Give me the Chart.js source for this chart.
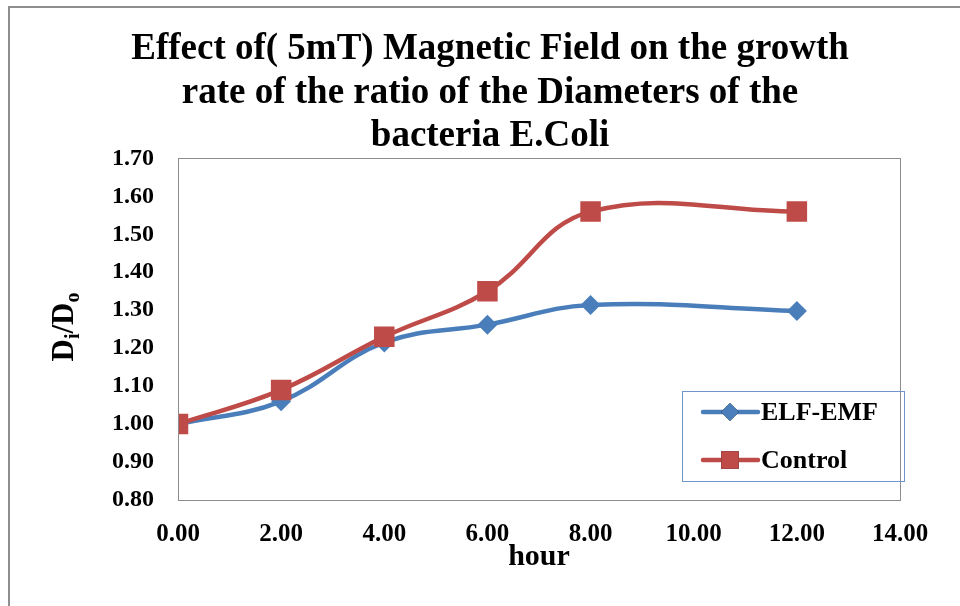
<!DOCTYPE html>
<html>
<head>
<meta charset="utf-8">
<script src="https://cdn.jsdelivr.net/npm/chart.js@4/dist/chart.umd.min.js"></script>
<style>
  body { margin: 0; background: #fff; }
  #frame {
    position: absolute; left: 8px; top: 6px;
    width: 952px; height: 600px;
    border-top: 2px solid #8e8e8e; border-left: 2px solid #8e8e8e;
  }
  #chart { display: block; }
</style>
</head>
<body>
<div id="frame"><canvas id="chart" width="952" height="600"></canvas></div>
<script>
// 데이터
const hours = [0, 2, 4, 6, 8, 12];
const elfValues = [1.00, 1.06, 1.215, 1.262, 1.314, 1.298];
const controlValues = [1.00, 1.09, 1.23, 1.35, 1.56, 1.56];
const seriesNames = ['ELF-EMF', 'Control'];
const titleLines = [
  'Effect of( 5mT) Magnetic Field on the growth',
  'rate of the ratio of the Diameters of the',
  'bacteria E.Coli'
];
const xAxisTitle = 'hour';

const serif = '"Liberation Serif", "Times New Roman", serif';
const blue = '#4a7ebb';
const red = '#be4b48';

function toPoints(values) {
  return hours.map((h, i) => ({ x: h, y: values[i] }));
}

// 플롯 테두리 + Y축 제목(아래첨자) + 범례
const extras = {
  id: 'extras',
  afterDraw(chart) {
    const ctx = chart.ctx;
    const a = chart.chartArea;
    ctx.save();

    // plot area border
    ctx.strokeStyle = '#8c8c8c';
    ctx.lineWidth = 1;
    ctx.strokeRect(Math.round(a.left) + 0.5, Math.round(a.top) + 0.5,
      Math.round(a.right - a.left), Math.round(a.bottom - a.top));

    // y axis title D_i/D_o
    ctx.translate(52, 319);
    ctx.rotate(-Math.PI / 2);
    ctx.fillStyle = '#000';
    ctx.textBaseline = 'alphabetic';
    const big = 'bold 31px ' + serif;
    const small = 'bold 20px ' + serif;
    const parts = [['D', big, 0], ['i', small, 6], ['/D', big, 0], ['o', small, 6]];
    let w = 0;
    parts.forEach(p => { ctx.font = p[1]; w += ctx.measureText(p[0]).width; });
    let x = -w / 2;
    parts.forEach(p => {
      ctx.font = p[1];
      ctx.fillText(p[0], x, 11 + p[2]);
      x += ctx.measureText(p[0]).width;
    });
    ctx.restore();

    // legend
    ctx.save();
    const box = { x: 672, y: 383, w: 222, h: 90 };
    ctx.strokeStyle = '#6f96cc';
    ctx.lineWidth = 1;
    ctx.strokeRect(box.x + 0.5, box.y + 0.5, box.w, box.h);
    const rows = [404, 452];
    chart.data.datasets.forEach((ds, i) => {
      const y = rows[i];
      ctx.strokeStyle = ds.borderColor;
      ctx.lineWidth = 4.5;
      ctx.lineCap = 'round';
      ctx.beginPath();
      ctx.moveTo(693, y);
      ctx.lineTo(748, y);
      ctx.stroke();
      Chart.helpers.drawPoint(ctx, {
        pointStyle: ds.pointStyle,
        radius: ds.pointStyle === 'rect' ? 12.5 : 9,
        borderWidth: 0
      }, 720, y);
      ctx.fillStyle = ds.pointBackgroundColor;
      ctx.fill();
      ctx.fillStyle = '#000';
      ctx.font = 'bold 26px ' + serif;
      ctx.textBaseline = 'middle';
      ctx.fillText(ds.label, 751, y + 1);
    });
    ctx.restore();
  }
};

const chart = new Chart(document.getElementById('chart'), {
  type: 'line',
  data: {
    datasets: [
      {
        label: seriesNames[0],
        data: toPoints(elfValues),
        borderColor: blue,
        backgroundColor: blue,
        pointBackgroundColor: blue,
        pointBorderWidth: 0,
        borderWidth: 4.5,
        pointStyle: 'rectRot',
        pointRadius: 10,
        tension: 0.4,
        order: 2
      },
      {
        label: seriesNames[1],
        data: toPoints(controlValues),
        borderColor: red,
        backgroundColor: red,
        pointBackgroundColor: red,
        pointBorderWidth: 0,
        borderWidth: 4.5,
        pointStyle: 'rect',
        pointRadius: 14.5,
        tension: 0.4,
        order: 1
      }
    ]
  },
  options: {
    responsive: false,
    animation: false,
    layout: { padding: { left: 70, right: 62, top: 0, bottom: 33 } },
    plugins: {
      legend: { display: false },
      tooltip: { enabled: false },
      title: {
        display: true,
        text: titleLines,
        color: '#000',
        font: { family: serif, size: 37, weight: 'bold', lineHeight: 1.175 },
        padding: { top: 20, bottom: 0 }
      }
    },
    scales: {
      x: {
        type: 'linear',
        min: 0,
        max: 14,
        ticks: {
          stepSize: 2,
          color: '#000',
          padding: 20,
          font: { family: serif, size: 25, weight: 'bold' },
          callback: v => v.toFixed(2)
        },
        grid: { display: false, drawTicks: false },
        border: { display: false },
        title: {
          display: true,
          text: xAxisTitle,
          color: '#000',
          font: { family: serif, size: 30, weight: 'bold' },
          padding: { top: 0, bottom: 0 }
        },
        afterFit: scale => { scale.height = 75; }
      },
      y: {
        min: 0.8,
        max: 1.7,
        ticks: {
          stepSize: 0.1,
          color: '#000',
          padding: 24,
          font: { family: serif, size: 24, weight: 'bold' },
          callback: v => v.toFixed(2)
        },
        grid: { display: false, drawTicks: false },
        border: { display: false },
        afterFit: scale => { scale.width = 98; }
      }
    }
  },
  plugins: [extras]
});
</script>
</body>
</html>
